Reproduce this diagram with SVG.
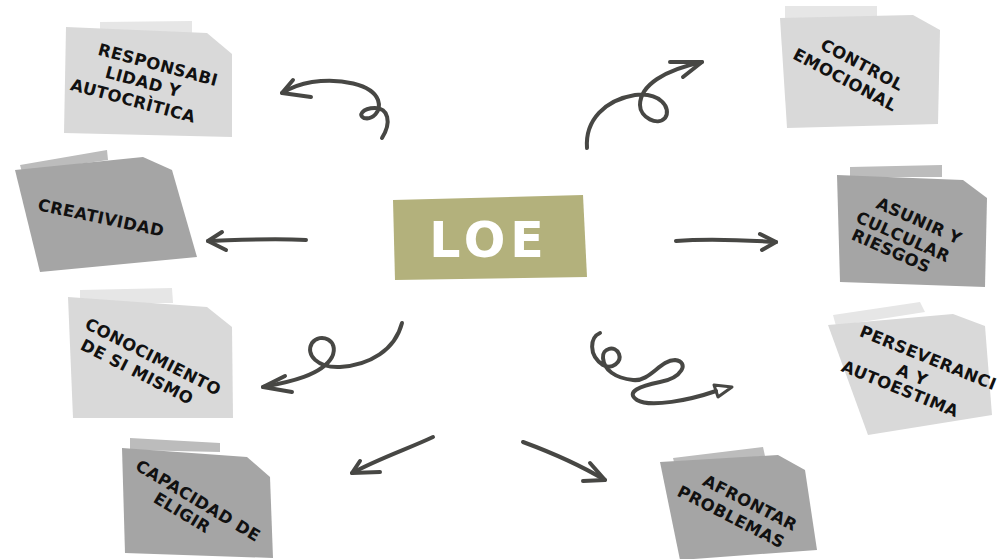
<svg xmlns="http://www.w3.org/2000/svg" width="1006" height="559" viewBox="0 0 1006 559">
<style>
.light{fill:#d9d9d9}
.lighttape{fill:#e6e6e6}
.dark{fill:#a5a5a5}
.darktape{fill:#bcbcbc}
.lbl{font-family:"DejaVu Sans",sans-serif;font-weight:bold;font-size:16.5px;letter-spacing:0.4px;fill:#111;text-anchor:middle;dominant-baseline:central}
.con{fill:none;stroke:#474744;stroke-width:4;stroke-linecap:round;stroke-linejoin:round}
</style>
<rect width="1006" height="559" fill="#ffffff"/>
<g id="node-responsabilidad">
<polygon class="lighttape" points="100,22 192,21 192,33 100,33"/>
<polygon class="light" points="66,27 207,33 232,54 232,137 64,133"/>
<text class="lbl" transform="translate(158,65) rotate(15)">RESPONSABI</text>
<text class="lbl" transform="translate(143,82) rotate(15)">LIDAD Y</text>
<text class="lbl" transform="translate(133,101) rotate(15)">AUTOCRÌTICA</text>
</g>
<g id="node-control">
<polygon class="lighttape" points="785,6 877,6 877,18 785,18"/>
<polygon class="light" points="780,18 913,15 940,30 938,124 787,128"/>
<text class="lbl" transform="translate(862,65) rotate(28)">CONTROL</text>
<text class="lbl" transform="translate(845,80) rotate(28)">EMOCIONAL</text>
</g>
<g id="node-creatividad">
<polygon class="darktape" points="20,165 107,150 108,160 22,172"/>
<polygon class="dark" points="15,170 143,157 172,170 197,257 40,272"/>
<text class="lbl" transform="translate(101,218) rotate(12)">CREATIVIDAD</text>
</g>
<g id="node-asunir">
<polygon class="darktape" points="850,167 942,165 942,177 850,177"/>
<polygon class="dark" points="837,175 963,180 987,198 985,287 840,282"/>
<text class="lbl" transform="translate(919,221) rotate(24)">ASUNIR Y</text>
<text class="lbl" transform="translate(903,237) rotate(24)">CULCULAR</text>
<text class="lbl" transform="translate(891,251) rotate(24)">RIESGOS</text>
</g>
<g id="node-conocimiento">
<polygon class="lighttape" points="80,290 172,288 173,303 80,303"/>
<polygon class="light" points="68,297 207,307 232,327 233,418 73,418"/>
<text class="lbl" transform="translate(153,357) rotate(27)">CONOCIMIENTO</text>
<text class="lbl" transform="translate(137,372) rotate(27)">DE SI MISMO</text>
</g>
<g id="node-perseverancia">
<polygon class="lighttape" points="833,315 920,302 925,312 836,326"/>
<polygon class="light" points="828,325 953,314 985,326 992,415 868,435"/>
<text class="lbl" transform="translate(928,358) rotate(22)">PERSEVERANCI</text>
<text class="lbl" transform="translate(912,375) rotate(22)">A Y</text>
<text class="lbl" transform="translate(900,389) rotate(22)">AUTOESTIMA</text>
</g>
<g id="node-capacidad">
<polygon class="darktape" points="130,438 220,443 220,452 130,450"/>
<polygon class="dark" points="122,448 247,457 270,477 273,558 125,553"/>
<text class="lbl" transform="translate(198,501) rotate(31)">CAPACIDAD DE</text>
<text class="lbl" transform="translate(182,513) rotate(31)">ELIGIR</text>
</g>
<g id="node-afrontar">
<polygon class="darktape" points="673,458 763,447 765,456 675,466"/>
<polygon class="dark" points="660,462 778,455 805,470 817,550 680,560"/>
<text class="lbl" transform="translate(750,503) rotate(27)">AFRONTAR</text>
<text class="lbl" transform="translate(731,517) rotate(27)">PROBLEMAS</text>
</g>
<g id="node-loe">
<polygon fill="#b3b17c" points="393,200 583,195 587,277 395,280"/>
<text x="489" y="240" font-family="DejaVu Sans, sans-serif" font-weight="bold" font-size="49" letter-spacing="5" fill="#ffffff" text-anchor="middle" dominant-baseline="central">LOE</text>
</g>
<g id="connectors">
<path class="con" d="M382,138 C392,122 388,108 375,108 C362,108 358,116 364,118 C372,120 382,112 378,100 C372,84 340,78 312,82 C300,84 290,88 282,93"/>
<path class="con" d="M293,80 L282,93 L311,97"/>
<path class="con" d="M587,148 C585,120 605,100 635,95 C660,92 672,108 665,118 C658,126 640,118 640,105 C640,85 665,70 702,62"/>
<path class="con" d="M670,62 L702,62 L683,77"/>
<path class="con" d="M306,240 C270,238 240,240 208,241"/>
<path class="con" d="M222,232 L208,241 L226,250"/>
<path class="con" d="M676,241 C710,238 745,240 776,242"/>
<path class="con" d="M760,234 L776,242 L762,250"/>
<path class="con" d="M402,323 C395,350 370,365 340,367 C318,368 305,355 312,343 C320,332 340,340 332,357 C322,375 290,382 263,387"/>
<path class="con" d="M285,376 L263,387 L292,392"/>
<path class="con" d="M600,333 C590,337 588,355 603,365 C612,370 622,362 619,354 C615,345 602,348 603,358 C604,370 615,378 633,380 C650,382 660,360 675,360 C690,362 682,378 660,382 C640,386 625,392 637,400 C650,408 690,400 716,391"/>
<polygon class="con" points="714,385 732,387 718,397" style="stroke-width:3"/>
<path class="con" d="M433,437 C410,448 380,458 352,473"/>
<path class="con" d="M360,461 L352,473 L380,472"/>
<path class="con" d="M523,442 C550,452 580,465 605,480"/>
<path class="con" d="M590,463 L605,480 L583,481"/>
</g>
</svg>
